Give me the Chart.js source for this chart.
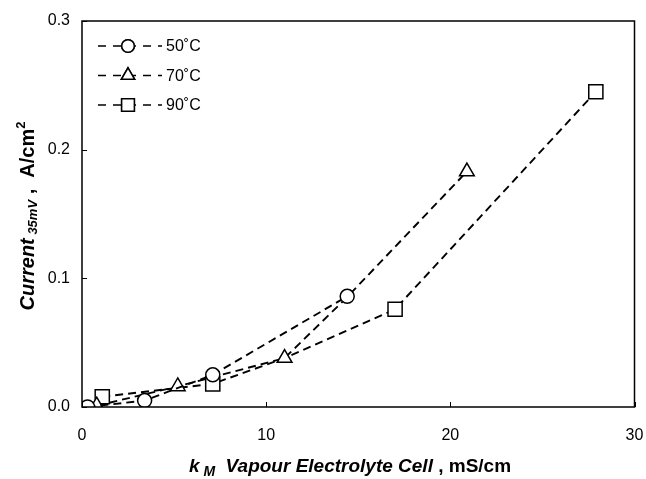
<!DOCTYPE html>
<html>
<head>
<meta charset="utf-8">
<script src="https://cdn.jsdelivr.net/npm/chart.js@4.4.0/dist/chart.umd.min.js"></script>
<style>
  html, body { margin: 0; padding: 0; background: #fff; }
  #wrap { width: 646px; height: 479px; }
</style>
</head>
<body>
<div id="wrap"><canvas id="myChart" width="646" height="479"></canvas></div>
<script>
// values
const labels = ['50˚C', '70˚C', '90˚C'];

const x50 = [0.3, 3.4, 7.1, 14.4];
const y50 = [0.000, 0.005, 0.025, 0.086];

const x70 = [0.8, 5.2, 11.0, 14.3, 20.9];
const y70 = [0.001, 0.016, 0.038, 0.084, 0.183];
const noMarker70 = [3];

const x90 = [1.1, 7.1, 11.0, 17.0, 27.9];
const y90 = [0.008, 0.018, 0.038, 0.076, 0.245];
const noMarker90 = [2];

const xTicks = [0, 10, 20, 30];
const yTicks = [0.0, 0.1, 0.2, 0.3];

const STYLES = ['circle', 'triangle', 'rect'];
const SIZES = [7, 8.5, 10];
const FONT = '"Liberation Sans", Arial, sans-serif';

function pts(xs, ys) {
    return xs.map((x, i) => ({ x: x, y: ys[i] }));
}

function makeSet(i, xs, ys, skip) {
    return {
        label: labels[i],
        data: pts(xs, ys),
        borderColor: '#000',
        borderWidth: 1.9,
        borderDash: [8, 5],
        backgroundColor: '#fff',
        pointStyle: STYLES[i],
        pointRadius: xs.map((v, k) => skip.includes(k) ? 0 : SIZES[i]),
        pointBorderColor: '#000',
        pointBorderWidth: 1.5,
        pointBackgroundColor: '#fff',
        fill: false,
        tension: 0
    };
}

// draw rich text runs centred on cx
function drawRuns(ctx, runs, cx, baseY) {
    let total = 0;
    runs.forEach(r => { ctx.font = r.font; total += ctx.measureText(r.text).width; });
    let x = cx - total / 2;
    ctx.textAlign = 'left';
    ctx.textBaseline = 'alphabetic';
    runs.forEach(r => {
        ctx.font = r.font;
        ctx.fillText(r.text, x, baseY + (r.dy || 0));
        x += ctx.measureText(r.text).width;
    });
}

const decor = {
    id: 'decor',
    afterDraw(chart) {
        const ctx = chart.ctx;
        const a = chart.chartArea;
        const xs = chart.scales.x, ys = chart.scales.y;
        ctx.save();
        ctx.strokeStyle = '#000';
        ctx.fillStyle = '#000';
        ctx.setLineDash([]);
        // frame
        ctx.lineWidth = 1.5;
        ctx.strokeRect(a.left, a.top, a.right - a.left, a.bottom - a.top);
        // inward ticks
        ctx.lineWidth = 1;
        xTicks.forEach(t => {
            const p = Math.round(xs.getPixelForValue(t)) + 0.5;
            ctx.beginPath(); ctx.moveTo(p, a.bottom); ctx.lineTo(p, a.bottom - 5); ctx.stroke();
        });
        yTicks.forEach(t => {
            const p = Math.round(ys.getPixelForValue(t)) + 0.5;
            ctx.beginPath(); ctx.moveTo(a.left, p); ctx.lineTo(a.left + 5, p); ctx.stroke();
        });

        // legend
        const lx = a.left + 16, ly = a.top + 25, gap = 29.5;
        chart.data.datasets.forEach((ds, i) => {
            const y = ly + i * gap;
            ctx.lineWidth = 1.5;
            ctx.setLineDash([8, 7]);
            ctx.beginPath(); ctx.moveTo(lx, y); ctx.lineTo(lx + 64, y); ctx.stroke();
            ctx.setLineDash([]);
            Chart.helpers.drawPoint(ctx, {
                pointStyle: STYLES[i], radius: SIZES[i] * 0.9, borderWidth: 1.4
            }, lx + 30, y);
            ctx.fillStyle = '#fff';
            ctx.fill();
            ctx.stroke();
            ctx.fillStyle = '#000';
            ctx.font = '16px ' + FONT;
            ctx.textAlign = 'left';
            ctx.textBaseline = 'middle';
            ctx.fillText(ds.label, lx + 68, y + 1);
        });

        // x axis title
        drawRuns(ctx, [
            { text: 'k', font: 'italic bold 19px ' + FONT },
            { text: ' M', font: 'italic bold 14px ' + FONT, dy: 4 },
            { text: '  Vapour Electrolyte Cell', font: 'italic bold 19px ' + FONT },
            { text: ' , mS/cm', font: 'bold 19px ' + FONT }
        ], 350, 472);

        // y axis title
        ctx.translate(34, 216);
        ctx.rotate(-Math.PI / 2);
        drawRuns(ctx, [
            { text: 'Current', font: 'italic bold 20px ' + FONT },
            { text: ' 35mV', font: 'italic bold 13px ' + FONT, dy: 3 },
            { text: ' ,  A/cm', font: 'bold 20px ' + FONT },
            { text: '2', font: 'bold 13px ' + FONT, dy: -9 }
        ], 0, 0);
        ctx.restore();
    }
};

const config = {
    type: 'line',
    data: {
        datasets: [
            makeSet(0, x50, y50, []),
            makeSet(1, x70, y70, noMarker70),
            makeSet(2, x90, y90, noMarker90)
        ]
    },
    options: {
        responsive: false,
        animation: false,
        layout: { padding: { left: 42, right: 7, top: 21, bottom: 0 } },
        plugins: {
            legend: { display: false },
            tooltip: { enabled: false }
        },
        scales: {
            x: {
                type: 'linear',
                min: 0, max: 30,
                afterFit: s => { s.height = 72; s.paddingLeft = 0; s.paddingRight = 0; },
                afterBuildTicks: s => { s.ticks = xTicks.map(v => ({ value: v })); },
                grid: { display: false, drawTicks: false },
                border: { display: false },
                ticks: {
                    padding: 19,
                    color: '#000',
                    font: { size: 16, family: FONT },
                    maxRotation: 0
                }
            },
            y: {
                type: 'linear',
                min: 0, max: 0.3,
                afterFit: s => { s.width = 40; s.paddingTop = 0; s.paddingBottom = 0; },
                afterBuildTicks: s => { s.ticks = yTicks.map(v => ({ value: v })); },
                grid: { display: false, drawTicks: false },
                border: { display: false },
                ticks: {
                    padding: 12,
                    color: '#000',
                    font: { size: 16, family: FONT },
                    callback: v => Number(v).toFixed(1)
                }
            }
        }
    },
    plugins: [decor]
};

var myChart = new Chart(document.getElementById('myChart'), config);
</script>
</body>
</html>
